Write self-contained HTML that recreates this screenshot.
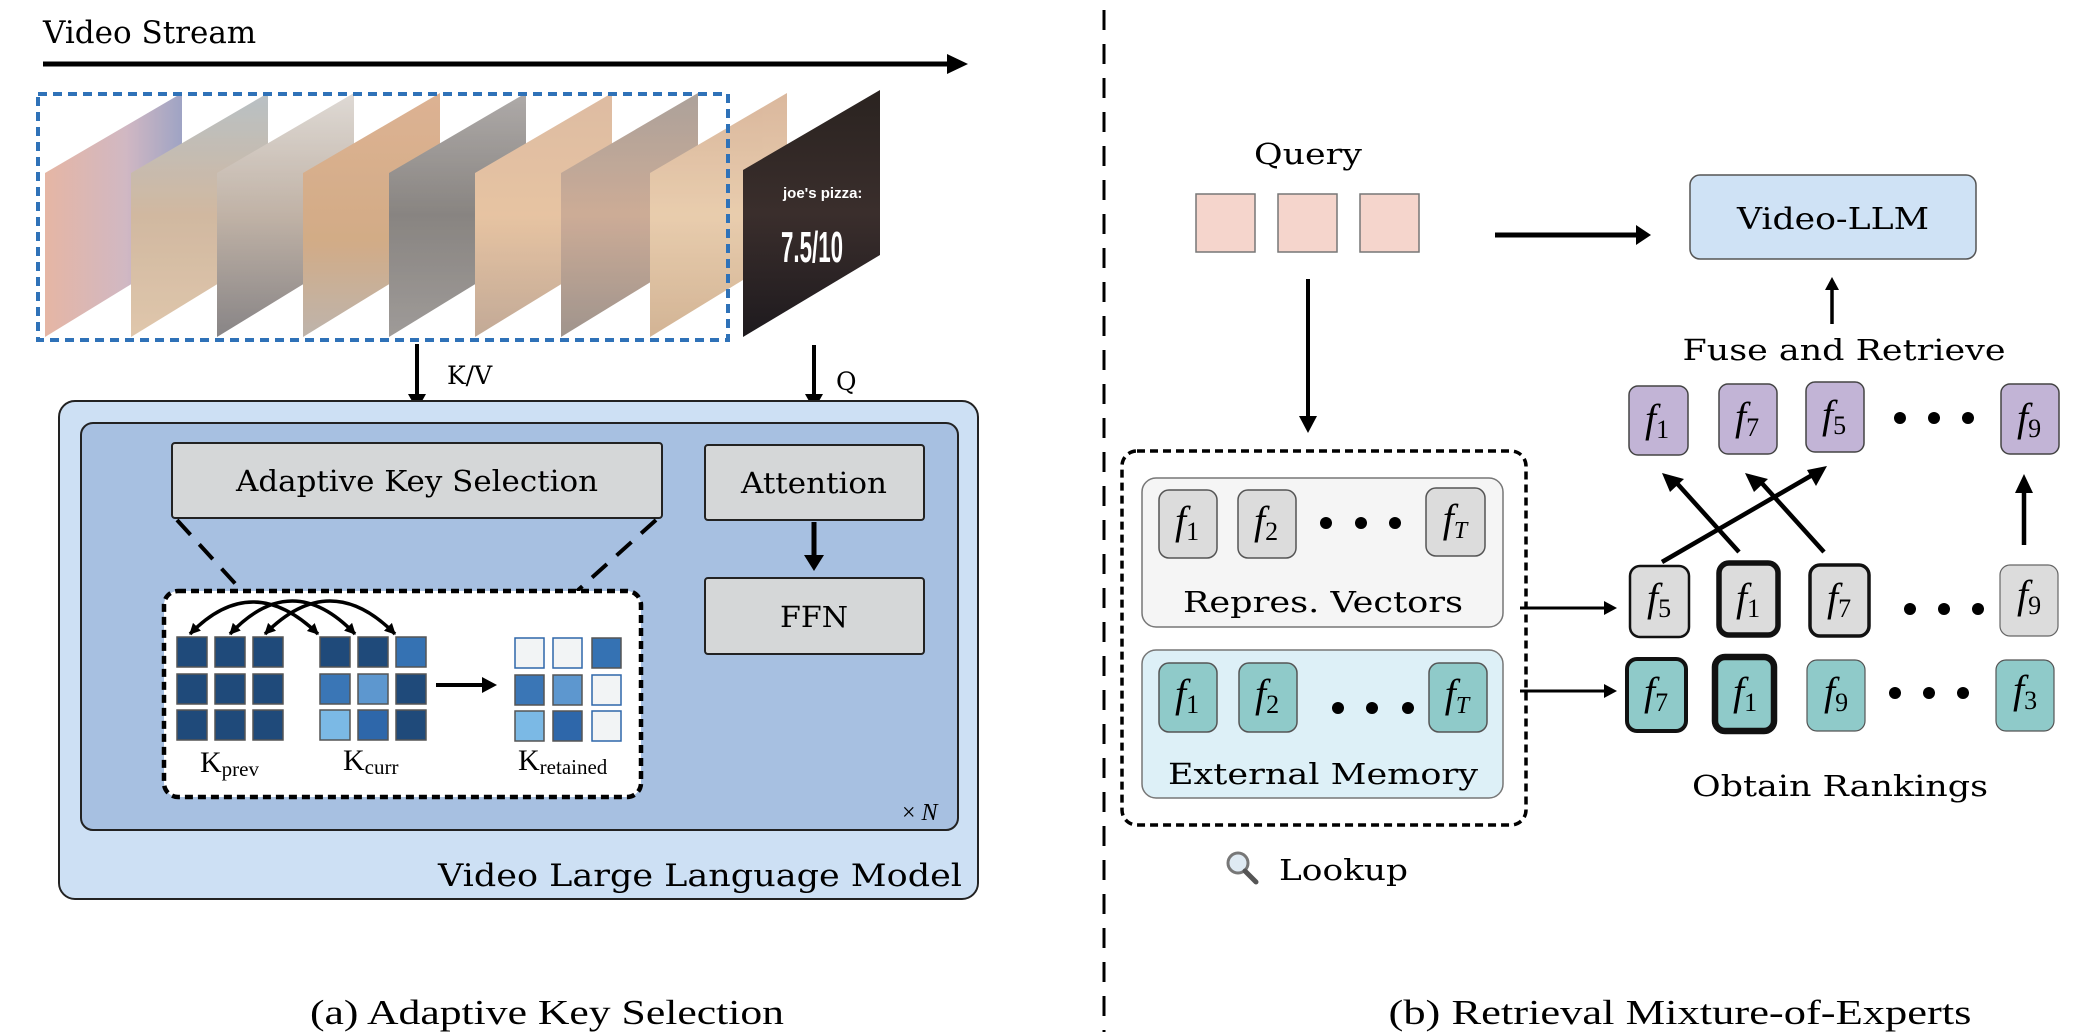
<!DOCTYPE html>
<html><head><meta charset="utf-8"><style>
html,body{margin:0;padding:0;background:#fff;}
svg{display:block;}
.s{font-family:"DejaVu Serif","Liberation Serif",serif;}
.t{font-family:"Liberation Serif",serif;}
</style></head><body>
<svg width="2100" height="1036" viewBox="0 0 2100 1036" xmlns="http://www.w3.org/2000/svg">
<defs>
<marker id="ah2" viewBox="0 0 10 10" refX="9" refY="5" markerWidth="3.2" markerHeight="3.2" orient="auto-start-reverse" markerUnits="strokeWidth"><path d="M0,0 L10,5 L0,10 z" fill="#000"/></marker>
<linearGradient id="g1" x1="0" y1="0" x2="1" y2="0"><stop offset="0" stop-color="#e0a690"/><stop offset="0.6" stop-color="#c6a8b6"/><stop offset="1" stop-color="#8a90b8"/></linearGradient>
<linearGradient id="g2" x1="0" y1="0" x2="0" y2="1"><stop offset="0" stop-color="#a9b3b8"/><stop offset="0.5" stop-color="#c7a98c"/><stop offset="1" stop-color="#d9bb9a"/></linearGradient>
<linearGradient id="g3" x1="0" y1="0" x2="0" y2="1"><stop offset="0" stop-color="#d8d2cc"/><stop offset="0.5" stop-color="#b3a293"/><stop offset="1" stop-color="#6e6a6c"/></linearGradient>
<linearGradient id="g4" x1="0" y1="0" x2="0" y2="1"><stop offset="0" stop-color="#d6a27c"/><stop offset="0.6" stop-color="#c99a6c"/><stop offset="1" stop-color="#b0a49a"/></linearGradient>
<linearGradient id="g5" x1="0" y1="0" x2="0" y2="1"><stop offset="0" stop-color="#9d9896"/><stop offset="0.5" stop-color="#6f6a66"/><stop offset="1" stop-color="#8a8582"/></linearGradient>
<linearGradient id="g6" x1="0" y1="0" x2="0" y2="1"><stop offset="0" stop-color="#d6ad8e"/><stop offset="0.5" stop-color="#e2b78e"/><stop offset="1" stop-color="#b59780"/></linearGradient>
<linearGradient id="g7" x1="0" y1="0" x2="0" y2="1"><stop offset="0" stop-color="#9a8d84"/><stop offset="0.5" stop-color="#c29a80"/><stop offset="1" stop-color="#8b7d74"/></linearGradient>
<linearGradient id="g8" x1="0" y1="0" x2="0" y2="1"><stop offset="0" stop-color="#d2a888"/><stop offset="0.5" stop-color="#e4c29c"/><stop offset="1" stop-color="#c9a47e"/></linearGradient>
<linearGradient id="g9" x1="0" y1="0" x2="0" y2="1"><stop offset="0" stop-color="#2a2320"/><stop offset="0.5" stop-color="#3a2e2c"/><stop offset="1" stop-color="#1e1a1e"/></linearGradient>
</defs>

<text x="43" y="43" class="s" font-size="31">Video Stream</text>
<line x1="43" y1="64" x2="950" y2="64" stroke="#000" stroke-width="5"/>
<path d="M947,54 L968,64 L947,74 z" fill="#000"/>

<g opacity="0.82">
<polygon points="45,173 182,93 182,253 45,337" fill="url(#g1)"/>
<polygon points="131,173 268,93 268,253 131,337" fill="url(#g2)"/>
<polygon points="217,173 354,93 354,253 217,337" fill="url(#g3)"/>
<polygon points="303,173 440,93 440,253 303,337" fill="url(#g4)"/>
<polygon points="389,173 526,93 526,253 389,337" fill="url(#g5)"/>
<polygon points="475,173 612,93 612,253 475,337" fill="url(#g6)"/>
<polygon points="561,173 698,93 698,253 561,337" fill="url(#g7)"/>
<polygon points="650,173 787,93 787,253 650,337" fill="url(#g8)"/>
</g>
<polygon points="743,170 880,90 880,255 743,337" fill="url(#g9)"/>
<text x="783" y="198" font-family="Liberation Sans,sans-serif" font-weight="bold" font-size="15" fill="#fff">joe's pizza:</text>
<text x="781" y="262" font-family="Liberation Sans,sans-serif" font-weight="bold" font-size="44" fill="#fff" textLength="62" lengthAdjust="spacingAndGlyphs">7.5/10</text>
<rect x="38" y="94" width="690" height="246" fill="none" stroke="#2f72b8" stroke-width="4" stroke-dasharray="9,6"/>

<line x1="417" y1="344" x2="417" y2="398" stroke="#000" stroke-width="4"/>
<path d="M408,394 L417,410 L426,394 z" fill="#000"/>
<text x="447" y="384" class="s" font-size="25">K/V</text>
<line x1="814" y1="345" x2="814" y2="398" stroke="#000" stroke-width="4"/>
<path d="M805,394 L814,410 L823,394 z" fill="#000"/>
<text x="836" y="390" class="s" font-size="25">Q</text>

<rect x="59" y="401" width="919" height="498" rx="16" fill="#cde0f4" stroke="#222" stroke-width="2"/>
<rect x="81" y="423" width="877" height="407" rx="12" fill="#a7c0e1" stroke="#222" stroke-width="2"/>
<rect x="172" y="443" width="490" height="75" rx="3" fill="#d5d7d8" stroke="#222" stroke-width="2"/>
<text x="417" y="491" text-anchor="middle" class="s" font-size="29" textLength="362" lengthAdjust="spacingAndGlyphs">Adaptive Key Selection</text>
<rect x="705" y="445" width="219" height="75" rx="3" fill="#d5d7d8" stroke="#222" stroke-width="2"/>
<text x="814" y="493" text-anchor="middle" class="s" font-size="29" textLength="146" lengthAdjust="spacingAndGlyphs">Attention</text>
<line x1="814" y1="522" x2="814" y2="558" stroke="#000" stroke-width="5"/>
<path d="M804,555 L814,571 L824,555 z" fill="#000"/>
<rect x="705" y="578" width="219" height="76" rx="3" fill="#d5d7d8" stroke="#222" stroke-width="2"/>
<text x="814" y="627" text-anchor="middle" class="s" font-size="29" textLength="68" lengthAdjust="spacingAndGlyphs">FFN</text>
<line x1="177" y1="520" x2="242" y2="591" stroke="#000" stroke-width="4" stroke-dasharray="20,13"/>
<line x1="656" y1="520" x2="577" y2="591" stroke="#000" stroke-width="4" stroke-dasharray="20,13"/>
<rect x="164" y="591" width="477" height="206" rx="14" fill="#fff" stroke="#000" stroke-width="4.5" stroke-dasharray="8,5"/>

<g stroke="#555" stroke-width="1.5">
<rect x="177" y="637" width="30" height="30" fill="#1f4a7a"/><rect x="215" y="637" width="30" height="30" fill="#1f4a7a"/><rect x="253" y="637" width="30" height="30" fill="#1f4a7a"/>
<rect x="177" y="674" width="30" height="30" fill="#1f4a7a"/><rect x="215" y="674" width="30" height="30" fill="#1f4a7a"/><rect x="253" y="674" width="30" height="30" fill="#1f4a7a"/>
<rect x="177" y="710" width="30" height="30" fill="#1f4a7a"/><rect x="215" y="710" width="30" height="30" fill="#1f4a7a"/><rect x="253" y="710" width="30" height="30" fill="#1f4a7a"/>
<rect x="320" y="637" width="30" height="30" fill="#1f4a7a"/><rect x="358" y="637" width="30" height="30" fill="#1f4a7a"/><rect x="396" y="637" width="30" height="30" fill="#3572b3"/>
<rect x="320" y="674" width="30" height="30" fill="#3a76b6"/><rect x="358" y="674" width="30" height="30" fill="#5d97cf"/><rect x="396" y="674" width="30" height="30" fill="#1f4a7a"/>
<rect x="320" y="710" width="30" height="30" fill="#7bb9e5"/><rect x="358" y="710" width="30" height="30" fill="#2e67aa"/><rect x="396" y="710" width="30" height="30" fill="#1f4a7a"/>
</g>
<g stroke-width="1.5">
<rect x="515" y="638" width="29" height="30" fill="#f2f4f5" stroke="#2e67aa"/><rect x="553" y="638" width="29" height="30" fill="#f2f4f5" stroke="#2e67aa"/><rect x="592" y="638" width="29" height="30" fill="#3572b3" stroke="#555"/>
<rect x="515" y="675" width="29" height="30" fill="#3a76b6" stroke="#555"/><rect x="553" y="675" width="29" height="30" fill="#5d97cf" stroke="#555"/><rect x="592" y="675" width="29" height="30" fill="#f2f4f5" stroke="#2e67aa"/>
<rect x="515" y="711" width="29" height="30" fill="#7bb9e5" stroke="#555"/><rect x="553" y="711" width="29" height="30" fill="#2e67aa" stroke="#555"/><rect x="592" y="711" width="29" height="30" fill="#f2f4f5" stroke="#2e67aa"/>
</g>
<line x1="436" y1="685" x2="484" y2="685" stroke="#000" stroke-width="4"/>
<path d="M482,677 L497,685 L482,693 z" fill="#000"/>

<g fill="none" stroke="#000" stroke-width="3.5">
<path d="M190,634 Q252,570 318,634" marker-start="url(#ah2)" marker-end="url(#ah2)"/>
<path d="M230,634 Q292,568 355,634" marker-start="url(#ah2)" marker-end="url(#ah2)"/>
<path d="M265,634 Q330,568 395,634" marker-start="url(#ah2)" marker-end="url(#ah2)"/>
</g>

<text x="200" y="772" class="t" font-size="30">K<tspan font-size="21" dy="4">prev</tspan></text>
<text x="343" y="770" class="t" font-size="30">K<tspan font-size="21" dy="4">curr</tspan></text>
<text x="518" y="770" class="t" font-size="30">K<tspan font-size="21" dy="4">retained</tspan></text>
<text x="902" y="820" class="t" font-size="24">× <tspan font-style="italic">N</tspan></text>
<text x="962" y="886" text-anchor="end" class="s" font-size="31" textLength="524" lengthAdjust="spacingAndGlyphs">Video Large Language Model</text>

<text x="547" y="1024" text-anchor="middle" class="t" font-size="35" textLength="474" lengthAdjust="spacingAndGlyphs">(a) Adaptive Key Selection</text>

<line x1="1104" y1="10" x2="1104" y2="1032" stroke="#000" stroke-width="3" stroke-dasharray="20,14"/>

<text x="1308" y="164" text-anchor="middle" class="s" font-size="29" textLength="108" lengthAdjust="spacingAndGlyphs">Query</text>
<g fill="#f5d5cc" stroke="#777" stroke-width="1.5">
<rect x="1196" y="194" width="59" height="58"/><rect x="1278" y="194" width="59" height="58"/><rect x="1360" y="194" width="59" height="58"/>
</g>
<line x1="1495" y1="235" x2="1640" y2="235" stroke="#000" stroke-width="5"/>
<path d="M1636,225 L1651,235 L1636,245 z" fill="#000"/>
<rect x="1690" y="175" width="286" height="84" rx="10" fill="#cfe2f5" stroke="#555" stroke-width="1.5"/>
<text x="1833" y="229" text-anchor="middle" class="s" font-size="30" textLength="192" lengthAdjust="spacingAndGlyphs">Video-LLM</text>
<line x1="1832" y1="324" x2="1832" y2="288" stroke="#000" stroke-width="3.5"/>
<path d="M1825,290 L1832,277 L1839,290 z" fill="#000"/>
<text x="1844" y="360" text-anchor="middle" class="s" font-size="29" textLength="323" lengthAdjust="spacingAndGlyphs">Fuse and Retrieve</text>

<line x1="1308" y1="279" x2="1308" y2="420" stroke="#000" stroke-width="4"/>
<path d="M1299,416 L1308,433 L1317,416 z" fill="#000"/>

<g fill="#c2b4d6" stroke="#444" stroke-width="1.5">
<rect x="1629" y="386" width="59" height="69" rx="9"/><rect x="1719" y="384" width="58" height="70" rx="9"/><rect x="1806" y="382" width="58" height="70" rx="9"/><rect x="2001" y="384" width="58" height="70" rx="9"/>
</g>
<g class="t" font-size="40" font-style="italic" text-anchor="middle">
<text x="1657" y="432">f<tspan font-style="normal" font-size="26" dy="6">1</tspan></text>
<text x="1747" y="430">f<tspan font-style="normal" font-size="26" dy="6">7</tspan></text>
<text x="1834" y="428">f<tspan font-style="normal" font-size="26" dy="6">5</tspan></text>
<text x="2029" y="431">f<tspan font-style="normal" font-size="26" dy="6">9</tspan></text>
</g>
<g fill="#000"><circle cx="1900" cy="418" r="6"/><circle cx="1934" cy="418" r="6"/><circle cx="1968" cy="418" r="6"/></g>

<g stroke="#000" stroke-width="4.5" fill="none">
<line x1="1739" y1="552" x2="1674" y2="480"/>
<line x1="1824" y1="552" x2="1759" y2="480"/>
<line x1="1662" y1="562" x2="1814" y2="474"/>
<line x1="2024" y1="545" x2="2024" y2="490"/>
</g>
<g fill="#000">
<path d="M1662,473 L1684,479 L1670,492 z"/>
<path d="M1745,473 L1768,479 L1754,492 z"/>
<path d="M1827,466 L1816,486 L1807,470 z"/>
<path d="M2015,493 L2024,474 L2033,493 z"/>
</g>

<g fill="#dcdcdc" stroke="#111">
<rect x="1630" y="566" width="59" height="71" rx="10" stroke-width="2.5"/>
<rect x="1719" y="563" width="59" height="72" rx="10" stroke-width="5.5"/>
<rect x="1810" y="565" width="59" height="71" rx="10" stroke-width="3.5"/>
<rect x="2000" y="565" width="58" height="71" rx="10" stroke-width="1.2" stroke="#666"/>
</g>
<g class="t" font-size="40" font-style="italic" text-anchor="middle">
<text x="1659" y="611">f<tspan font-style="normal" font-size="26" dy="6">5</tspan></text>
<text x="1748" y="611">f<tspan font-style="normal" font-size="26" dy="6">1</tspan></text>
<text x="1839" y="611">f<tspan font-style="normal" font-size="26" dy="6">7</tspan></text>
<text x="2029" y="608">f<tspan font-style="normal" font-size="26" dy="6">9</tspan></text>
</g>
<g fill="#000"><circle cx="1910" cy="609" r="6"/><circle cx="1944" cy="609" r="6"/><circle cx="1978" cy="609" r="6"/></g>

<g fill="#8fcac9" stroke="#111">
<rect x="1627" y="659" width="59" height="72" rx="10" stroke-width="4"/>
<rect x="1715" y="657" width="59" height="74" rx="10" stroke-width="6.5"/>
<rect x="1807" y="660" width="58" height="71" rx="10" stroke-width="1.2" stroke="#555"/>
<rect x="1996" y="660" width="58" height="71" rx="10" stroke-width="1.2" stroke="#555"/>
</g>
<g class="t" font-size="40" font-style="italic" text-anchor="middle">
<text x="1656" y="705">f<tspan font-style="normal" font-size="26" dy="6">7</tspan></text>
<text x="1745" y="705">f<tspan font-style="normal" font-size="26" dy="6">1</tspan></text>
<text x="1836" y="705">f<tspan font-style="normal" font-size="26" dy="6">9</tspan></text>
<text x="2025" y="703">f<tspan font-style="normal" font-size="26" dy="6">3</tspan></text>
</g>
<g fill="#000"><circle cx="1895" cy="693" r="6"/><circle cx="1929" cy="693" r="6"/><circle cx="1963" cy="693" r="6"/></g>
<text x="1840" y="796" text-anchor="middle" class="s" font-size="29" textLength="296" lengthAdjust="spacingAndGlyphs">Obtain Rankings</text>

<rect x="1122" y="451" width="404" height="374" rx="15" fill="none" stroke="#000" stroke-width="3.5" stroke-dasharray="8,5"/>
<rect x="1142" y="478" width="361" height="149" rx="14" fill="#f5f5f5" stroke="#777" stroke-width="1.5"/>
<g fill="#dcdcdc" stroke="#555" stroke-width="1.5">
<rect x="1159" y="490" width="58" height="68" rx="10"/><rect x="1238" y="490" width="58" height="68" rx="10"/><rect x="1426" y="488" width="59" height="68" rx="10"/>
</g>
<g class="t" font-size="40" font-style="italic" text-anchor="middle">
<text x="1187" y="534">f<tspan font-style="normal" font-size="26" dy="6">1</tspan></text>
<text x="1266" y="534">f<tspan font-style="normal" font-size="26" dy="6">2</tspan></text>
<text x="1455" y="532">f<tspan font-size="24" dy="6">T</tspan></text>
</g>
<g fill="#000"><circle cx="1326" cy="523" r="6"/><circle cx="1361" cy="523" r="6"/><circle cx="1395" cy="523" r="6"/></g>
<text x="1323" y="612" text-anchor="middle" class="s" font-size="29" textLength="280" lengthAdjust="spacingAndGlyphs">Repres. Vectors</text>

<rect x="1142" y="650" width="361" height="148" rx="14" fill="#ddf0f7" stroke="#777" stroke-width="1.5"/>
<g fill="#8fcac9" stroke="#555" stroke-width="1.5">
<rect x="1159" y="663" width="58" height="69" rx="10"/><rect x="1239" y="663" width="58" height="69" rx="10"/><rect x="1429" y="663" width="58" height="69" rx="10"/>
</g>
<g class="t" font-size="40" font-style="italic" text-anchor="middle">
<text x="1187" y="707">f<tspan font-style="normal" font-size="26" dy="6">1</tspan></text>
<text x="1267" y="707">f<tspan font-style="normal" font-size="26" dy="6">2</tspan></text>
<text x="1457" y="707">f<tspan font-size="24" dy="6">T</tspan></text>
</g>
<g fill="#000"><circle cx="1338" cy="708" r="6"/><circle cx="1372" cy="708" r="6"/><circle cx="1408" cy="708" r="6"/></g>
<text x="1323" y="784" text-anchor="middle" class="s" font-size="29" textLength="310" lengthAdjust="spacingAndGlyphs">External Memory</text>

<line x1="1520" y1="608" x2="1606" y2="608" stroke="#000" stroke-width="3"/>
<path d="M1604,601 L1617,608 L1604,615 z" fill="#000"/>
<line x1="1520" y1="691" x2="1606" y2="691" stroke="#000" stroke-width="3"/>
<path d="M1604,684 L1617,691 L1604,698 z" fill="#000"/>

<circle cx="1238" cy="863" r="10" fill="#dfeaf3" stroke="#777" stroke-width="3"/>
<line x1="1245" y1="871" x2="1256" y2="882" stroke="#555" stroke-width="5" stroke-linecap="round"/>
<text x="1279" y="880" class="s" font-size="29" textLength="129" lengthAdjust="spacingAndGlyphs">Lookup</text>

<text x="1680" y="1024" text-anchor="middle" class="t" font-size="35" textLength="583" lengthAdjust="spacingAndGlyphs">(b) Retrieval Mixture-of-Experts</text>
</svg>
</body></html>
